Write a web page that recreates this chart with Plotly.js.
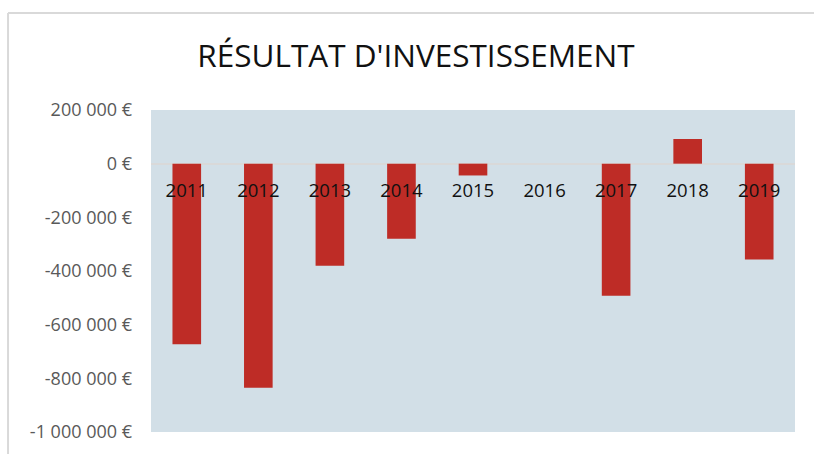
<!DOCTYPE html>
<html><head><meta charset="utf-8">
<script src="https://cdn.plot.ly/plotly-3.0.1.min.js"></script>
<style>body{margin:0;padding:0;background:#fff}#chart{width:814px;height:454px}</style>
</head><body><div id="chart"></div>
<script>
const years = ['2011','2012','2013','2014','2015','2016','2017','2018','2019'];
const resultat = [-673000,-835000,-380000,-280000,-44000,0,-492000,92000,-357000];
const yTickVals = [200000,0,-200000,-400000,-600000,-800000,-1000000];
const yTickText = ['200 000 €','0 €','-200 000 €','-400 000 €','-600 000 €','-800 000 €','-1 000 000 €'];

const trace = {
  type:'bar', x: years, y: resultat,
  marker:{color:'#BE2C26', line:{color:'#C98F8C', width:0}},
  hoverinfo:'x+y'
};
const layout = {
  width:814, height:454,
  margin:{l:151, r:19, t:110, b:22},
  paper_bgcolor:'#ffffff', plot_bgcolor:'#D2DFE7',
  font:{family:'"Open Sans", sans-serif'},
  title:{text:"RÉSULTAT D'INVESTISSEMENT", font:{size:31.5, color:'#111111', family:'"Open Sans", sans-serif'}, x:0.511, xanchor:'center', y:0.877, yanchor:'middle'},
  showlegend:false,
  bargap:0.6,
  xaxis:{type:'category', anchor:'free', position:0.8333, showgrid:false, showline:false, zeroline:false, ticks:'', ticklabelstandoff:14,
    tickfont:{size:18.5, color:'#111111'}},
  yaxis:{range:[-1000000,200000], tickvals:yTickVals, ticktext:yTickText, showgrid:false, showline:false,
    zeroline:true, zerolinecolor:'#D9D9D9', zerolinewidth:2, ticks:'', ticklabelstandoff:18,
    tickfont:{size:18, color:'#595959'}},
  shapes:[
    {type:'line', xref:'paper', yref:'paper', x0:-0.222, x1:-0.222, y0:1.301, y1:-0.2, line:{color:'#D9D9D9', width:2}},
    {type:'line', xref:'paper', yref:'paper', x0:-0.222, x1:1.1, y0:1.301, y1:1.301, line:{color:'#D9D9D9', width:2}}
  ]
};
Plotly.newPlot('chart',[trace],layout,{displayModeBar:false, staticPlot:true});
</script></body></html>
